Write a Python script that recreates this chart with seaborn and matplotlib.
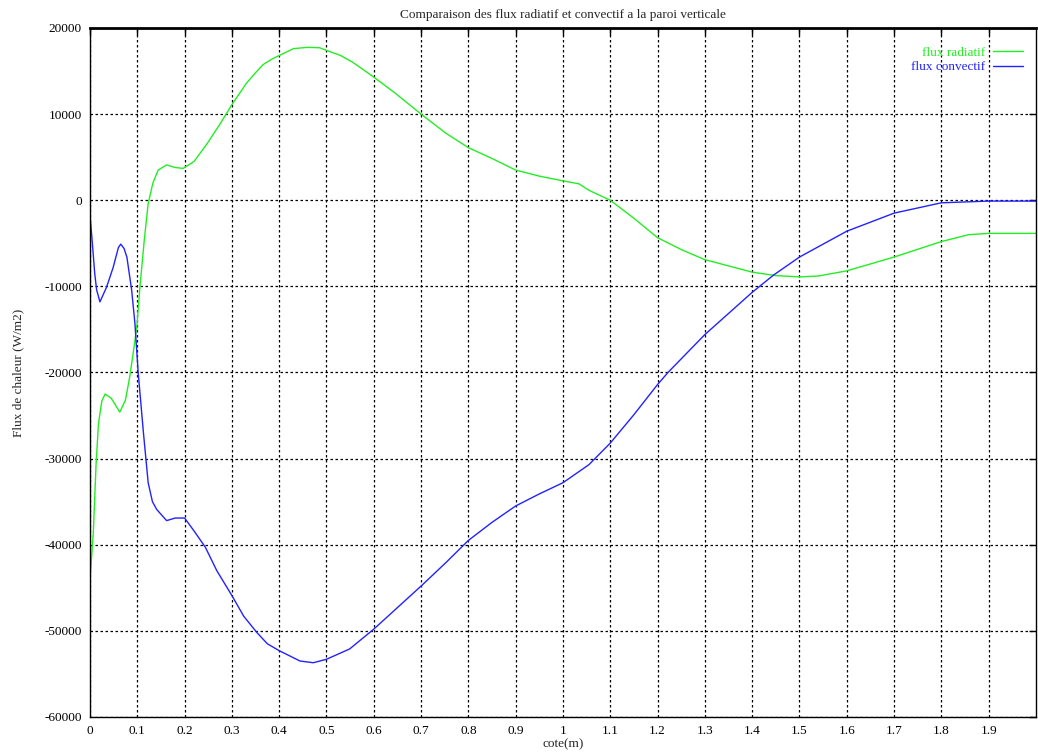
import numpy as np
import pandas as pd
import seaborn as sns
from matplotlib import pyplot as plt

# flux radiatif
x_rad = [0.000, 0.007, 0.013, 0.018, 0.025, 0.032, 0.045, 0.063, 0.075, 0.084,
         0.092, 0.099, 0.106, 0.115, 0.123, 0.133, 0.144, 0.162, 0.180, 0.197,
         0.220, 0.248, 0.276, 0.300, 0.331, 0.350, 0.366, 0.385, 0.400, 0.430,
         0.460, 0.486, 0.500, 0.530, 0.556, 0.600, 0.646, 0.700, 0.752, 0.800,
         0.850, 0.900, 0.950, 1.000, 1.034, 1.055, 1.100, 1.150, 1.200, 1.251,
         1.300, 1.400, 1.450, 1.500, 1.540, 1.600, 1.700, 1.800, 1.858, 1.900,
         2.000]
y_rad = [-44000, -38600, -30500, -25900, -23300, -22500, -23000, -24600, -23200, -20500,
         -17500, -14700, -9800, -4500, -400, 2000, 3500, 4100, 3800, 3700,
         4500, 6600, 8950, 11100, 13600, 14800, 15750, 16400, 16800, 17600,
         17750, 17700, 17400, 16800, 16000, 14300, 12400, 10000, 7800, 6100,
         4850, 3500, 2800, 2250, 1900, 1150, 0, -2100, -4350, -5750,
         -6900, -8350, -8750, -8900, -8800, -8200, -6600, -4800, -4000, -3850,
         -3850]

# flux convectif
x_conv = [0.000, 0.004, 0.010, 0.014, 0.021, 0.035, 0.049, 0.060, 0.065, 0.072,
          0.078, 0.088, 0.095, 0.102, 0.113, 0.123, 0.132, 0.141, 0.162, 0.180,
          0.200, 0.220, 0.244, 0.268, 0.300, 0.325, 0.353, 0.375, 0.400, 0.444,
          0.472, 0.500, 0.549, 0.600, 0.646, 0.700, 0.752, 0.800, 0.850, 0.900,
          0.950, 1.000, 1.055, 1.100, 1.150, 1.200, 1.222, 1.300, 1.400, 1.445,
          1.500, 1.600, 1.700, 1.800, 1.900, 2.000]
y_conv = [-1800, -4300, -8500, -10400, -11800, -10100, -7800, -5500, -5100, -5600,
          -6600, -10400, -14300, -20100, -27000, -32800, -35000, -35900, -37200, -36900,
          -36900, -38400, -40300, -43000, -45900, -48300, -50200, -51500, -52300, -53500,
          -53700, -53300, -52100, -49800, -47500, -44800, -42100, -39500, -37400, -35500,
          -34100, -32800, -30700, -28200, -24900, -21400, -20000, -15600, -10700, -8700,
          -6600, -3600, -1500, -300, -100, -100]

x_ticks = [round(0.1 * i, 1) for i in range(20)]
y_ticks = list(range(-60000, 20001, 10000))

rad = pd.DataFrame({'cote': x_rad, 'flux': y_rad})
conv = pd.DataFrame({'cote': x_conv, 'flux': y_conv})

sns.set_theme(style='white')
plt.rcParams['font.family'] = ['Liberation Serif', 'DejaVu Serif']

fig = plt.figure(figsize=(10.38, 7.56), dpi=100)
ax = fig.add_axes([0.0867, 0.0516, 0.9113, 0.9114])

sns.lineplot(data=rad, x='cote', y='flux', color='#22ee22', linewidth=1.0,
             label='flux radiatif', ax=ax)
sns.lineplot(data=conv, x='cote', y='flux', color='#2222ff', linewidth=1.0,
             label='flux convectif', ax=ax)

ax.set_xlim(0, 2)
ax.set_ylim(-60000, 20000)
ax.set_xticks(x_ticks)
ax.set_xticklabels([('%g' % t) for t in x_ticks])
ax.set_yticks(y_ticks)
ax.set_yticklabels([str(t) for t in y_ticks])
ax.grid(True, color='black', linestyle=(0, (2, 2)), linewidth=0.9)
ax.tick_params(direction='in', top=True, right=True, length=5, width=1,
               labelsize=9.5, colors='black', pad=6)
for s in ax.spines.values():
    s.set_color('black')
    s.set_linewidth(1.0)
ax.spines['top'].set_linewidth(2.0)

ax.set_title('Comparaison des flux radiatif et convectif a la paroi verticale',
             fontsize=9.5, pad=7)
ax.set_xlabel('cote(m)', fontsize=9.5, labelpad=1)
ax.set_ylabel('Flux de chaleur (W/m2)', fontsize=9.5, labelpad=14)

ax.legend(loc='upper right', bbox_to_anchor=(0.999, 0.99), frameon=False,
          markerfirst=False, labelcolor='linecolor', fontsize=9.5,
          handlelength=2.3, handletextpad=0.6, labelspacing=0.15)

fig.savefig('out.png', dpi=100)
